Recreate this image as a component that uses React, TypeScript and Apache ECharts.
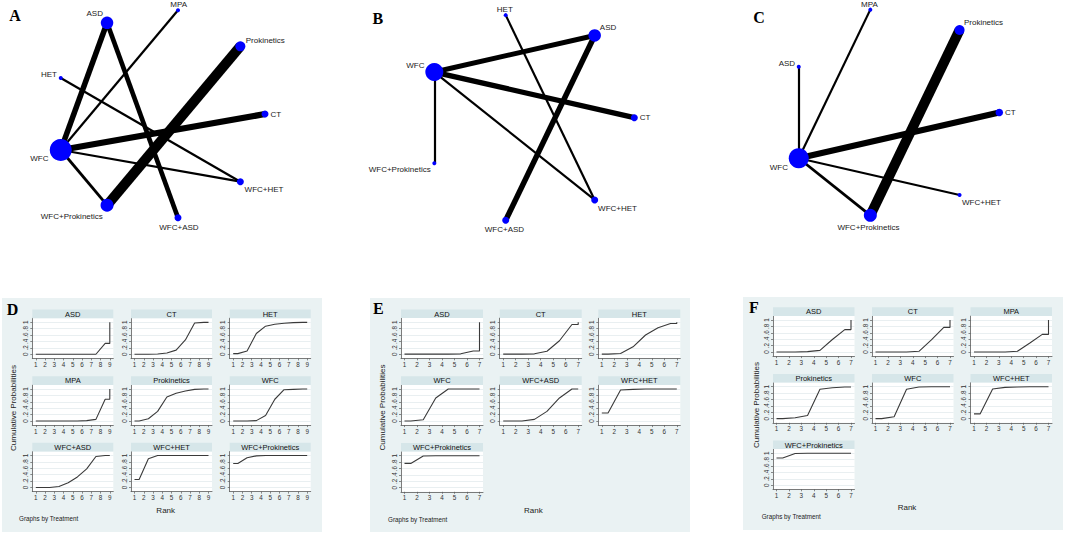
import React, { useEffect, useRef } from 'react';
import * as echarts from 'echarts';

// ---------- Network plots (nodes listed counter-clockwise, starting at 3 o'clock) ----------
const netA_nodes = ['CT', 'Prokinetics', 'MPA', 'ASD', 'HET', 'WFC', 'WFC+Prokinetics', 'WFC+ASD', 'WFC+HET'];
const netA_nodeWeight = [7, 10, 4, 12.5, 4, 22, 13, 7, 7];
const netA_edges: [string, string, number][] = [
  ['ASD', 'WFC', 5.5], ['ASD', 'WFC+ASD', 4.7], ['MPA', 'WFC', 2.2], ['Prokinetics', 'WFC+Prokinetics', 10],
  ['HET', 'WFC+HET', 2.2], ['CT', 'WFC', 6.3], ['WFC', 'WFC+HET', 2.2], ['WFC', 'WFC+Prokinetics', 2.8],
];

const netB_nodes = ['CT', 'ASD', 'HET', 'WFC', 'WFC+Prokinetics', 'WFC+ASD', 'WFC+HET'];
const netB_nodeWeight = [7, 12.5, 4, 18, 4, 7, 7];
const netB_edges: [string, string, number][] = [
  ['WFC', 'ASD', 5], ['WFC', 'CT', 5.3], ['ASD', 'WFC+ASD', 5.5], ['HET', 'WFC+HET', 2.2],
  ['WFC', 'WFC+Prokinetics', 2.2], ['WFC', 'WFC+HET', 2.2],
];

const netC_nodes = ['CT', 'Prokinetics', 'MPA', 'ASD', 'WFC', 'WFC+Prokinetics', 'WFC+HET'];
const netC_nodeWeight = [7.5, 10, 4, 4, 20, 13, 4];
const netC_edges: [string, string, number][] = [
  ['MPA', 'WFC', 2.2], ['ASD', 'WFC', 2.2], ['Prokinetics', 'WFC+Prokinetics', 10], ['CT', 'WFC', 6],
  ['WFC', 'WFC+HET', 2.2], ['WFC', 'WFC+Prokinetics', 2.8],
];

// ---------- Cumulative ranking probabilities (value at ranks 1..n-1) ----------
const rankCountD = 9;
const sucraD_names = ['ASD', 'CT', 'HET', 'MPA', 'Prokinetics', 'WFC', 'WFC+ASD', 'WFC+HET', 'WFC+Prokinetics'];
const sucraD_cum = [
  [0, 0, 0, 0, 0, 0, 0, 0.34],
  [0, 0, 0.01, 0.04, 0.13, 0.45, 0.98, 1.0],
  [0.02, 0.1, 0.65, 0.88, 0.94, 0.97, 0.99, 1.0],
  [0, 0, 0, 0, 0, 0.01, 0.05, 0.68],
  [0, 0.07, 0.3, 0.75, 0.87, 0.94, 0.99, 1.0],
  [0, 0, 0.01, 0.17, 0.68, 0.98, 0.99, 1.0],
  [0, 0, 0.03, 0.15, 0.33, 0.58, 0.97, 1.0],
  [0.25, 0.9, 1.0, 1, 1, 1, 1, 1],
  [0.75, 0.93, 0.99, 1, 1, 1, 1, 1],
];

const rankCountE = 7;
const sucraE_names = ['ASD', 'CT', 'HET', 'WFC', 'WFC+ASD', 'WFC+HET', 'WFC+Prokinetics'];
const sucraE_cum = [
  [0, 0, 0, 0, 0.01, 0.1],
  [0, 0, 0.01, 0.09, 0.42, 0.93],
  [0, 0.02, 0.23, 0.6, 0.83, 0.96],
  [0, 0.04, 0.72, 1, 1, 1],
  [0, 0, 0.05, 0.3, 0.72, 1.0],
  [0.25, 0.97, 0.99, 1, 1, 1],
  [0.76, 0.99, 1, 1, 1, 1],
];

const rankCountF = 7;
const sucraF_names = ['ASD', 'CT', 'MPA', 'Prokinetics', 'WFC', 'WFC+HET', 'WFC+Prokinetics'];
const sucraF_cum = [
  [0, 0, 0.01, 0.05, 0.39, 0.7],
  [0, 0, 0, 0.02, 0.38, 0.77],
  [0, 0, 0, 0.02, 0.28, 0.55],
  [0, 0.03, 0.1, 0.92, 0.97, 0.99],
  [0, 0.06, 0.92, 0.99, 1, 1],
  [0.15, 0.93, 0.98, 0.99, 1, 1],
  [0.85, 0.99, 1, 1, 1, 1],
];

const yTicks = [0, 0.2, 0.4, 0.6, 0.8, 1];

const FONT = '"Liberation Sans", Arial, sans-serif';
const SERIF = '"Liberation Serif", "Times New Roman", serif';

function buildNet(opt: any, nodes: string[], weights: number[], edges: [string, string, number][], cx: number, cy: number, R: number) {
  const gi = opt.grid.length;
  opt.grid.push({ left: cx - R, top: cy - R, width: 2 * R, height: 2 * R, show: false });
  opt.xAxis.push({ type: 'value', gridIndex: gi, min: -1, max: 1, show: false });
  opt.yAxis.push({ type: 'value', gridIndex: gi, min: -1, max: 1, show: false });
  const n = nodes.length;
  const ang = nodes.map((_, i) => (2 * Math.PI * i) / n);
  const pos = ang.map((a) => [Math.cos(a), Math.sin(a)]);
  const idx = (s: string) => nodes.indexOf(s);
  opt.series.push({
    type: 'lines',
    coordinateSystem: 'cartesian2d',
    xAxisIndex: gi,
    yAxisIndex: gi,
    clip: false,
    silent: true,
    z: 2,
    lineStyle: { color: '#000', opacity: 1, curveness: 0, cap: 'butt' },
    data: edges.map(([s, t, w]) => ({ coords: [pos[idx(s)], pos[idx(t)]], lineStyle: { width: w, color: '#000', opacity: 1 } })),
  });
  opt.series.push({
    type: 'scatter',
    xAxisIndex: gi,
    yAxisIndex: gi,
    clip: false,
    silent: true,
    z: 3,
    itemStyle: { color: '#0000ff', opacity: 1 },
    data: nodes.map((name, i) => {
      const a = ang[i];
      const c = Math.cos(a), s = Math.sin(a);
      const d = weights[i] / 2 + 2;
      const va = s > 0.3 ? 'bottom' : s < -0.3 ? 'top' : 'middle';
      const dy = -s * d + (va === 'bottom' ? 2.3 : 0);
      return {
        name,
        value: pos[i],
        symbolSize: weights[i],
        label: {
          show: true,
          formatter: '{b}',
          position: 'inside',
          offset: [c * d, dy],
          align: c > 0.3 ? 'left' : c < -0.3 ? 'right' : 'center',
          verticalAlign: va,
          color: '#1a1a1a',
          textBorderWidth: 0,
          textBorderColor: 'transparent',
          textShadowBlur: 0,
          fontSize: 8,
          fontFamily: FONT,
        },
      };
    }),
  });
}

type FacetLayout = {
  colLefts: number[];
  plotW: number;
  rowTops: number[];
  bg: [number, number, number, number];
  letter: string;
  letterPos: [number, number];
  rankPos: [number, number];
  gbtPos: [number, number];
  cumPos: [number, number];
};

function buildFacet(opt: any, names: string[], cum: number[][], nRank: number, L: FacetLayout) {
  const HEADER_H = 8.6;
  const PLOT_H = 40.2;
  opt.graphic.push({ type: 'rect', z: -10, shape: { x: L.bg[0], y: L.bg[1], width: L.bg[2], height: L.bg[3] }, style: { fill: '#eaf2f3' } });
  opt.graphic.push({
    type: 'text', z: 5, x: L.letterPos[0], y: L.letterPos[1],
    style: { text: L.letter, fontFamily: SERIF, fontWeight: 'bold', fontSize: 16, fill: '#000', align: 'center', verticalAlign: 'middle' },
  });
  opt.graphic.push({
    type: 'text', z: 5, x: L.rankPos[0], y: L.rankPos[1],
    style: { text: 'Rank', fontFamily: FONT, fontSize: 8, fill: '#222', align: 'center', verticalAlign: 'middle' },
  });
  opt.graphic.push({
    type: 'text', z: 5, x: L.gbtPos[0], y: L.gbtPos[1],
    style: { text: 'Graphs by Treatment', fontFamily: FONT, fontSize: 6.3, fill: '#222', align: 'left', verticalAlign: 'middle' },
  });
  opt.graphic.push({
    type: 'text', z: 5, x: L.cumPos[0], y: L.cumPos[1], rotation: Math.PI / 2,
    style: { text: 'Cumulative Probabilities', fontFamily: FONT, fontSize: 8, fill: '#222', align: 'center', verticalAlign: 'middle' },
  });
  const ranks = Array.from({ length: nRank }, (_, k) => k + 1);
  names.forEach((name, i) => {
    const col = i % 3;
    const row = Math.floor(i / 3);
    const left = L.colLefts[col];
    const top = L.rowTops[row];
    opt.graphic.push({ type: 'rect', z: 1, shape: { x: left, y: top, width: L.plotW, height: HEADER_H }, style: { fill: '#d6e6e9' } });
    opt.graphic.push({
      type: 'text', z: 2, x: left + L.plotW / 2, y: top + HEADER_H / 2 + 0.3,
      style: { text: name, fontFamily: FONT, fontSize: 7.5, fill: '#111', align: 'center', verticalAlign: 'middle' },
    });
    const gi = opt.grid.length;
    opt.grid.push({ left, top: top + HEADER_H, width: L.plotW, height: PLOT_H, show: true, backgroundColor: '#ffffff', borderWidth: 0 });
    const m = 3.5;
    const p = (L.plotW - 2 * m) / (nRank - 1);
    const axisLine = { show: true, onZero: false, lineStyle: { color: '#5a5a5a', width: 0.8 } };
    opt.xAxis.push({
      type: 'value', gridIndex: gi, min: 1 - m / p, max: nRank + m / p,
      axisLine,
      axisTick: { show: true, length: 2, customValues: ranks, lineStyle: { color: '#5a5a5a', width: 0.7 } },
      axisLabel: { show: true, customValues: ranks, fontSize: 6.3, color: '#333', margin: 3, fontFamily: FONT },
      splitLine: { show: false },
    });
    opt.yAxis.push({
      type: 'value', gridIndex: gi, min: -0.13, max: 1.13,
      axisLine,
      axisTick: { show: true, length: 2, customValues: yTicks, lineStyle: { color: '#5a5a5a', width: 0.7 } },
      axisLabel: {
        show: true, customValues: yTicks, rotate: 90, fontSize: 6.3, color: '#333', margin: 4, fontFamily: FONT,
        formatter: (v: number) => (v === 0 ? '0' : v === 1 ? '1' : '.' + Math.round(v * 10)),
      },
      splitLine: { show: true, lineStyle: { color: '#e3ebed', width: 0.8 } },
    });
    const c = cum[i];
    const pts: number[][] = [[1, c[0]]];
    c.forEach((v, k) => pts.push([k + 1.5, v]));
    pts.push([nRank, c[c.length - 1]]);
    pts.push([nRank, 1]);
    opt.series.push({
      type: 'line', xAxisIndex: gi, yAxisIndex: gi, data: pts, showSymbol: false, symbol: 'none', silent: true,
      lineStyle: { color: '#3a3a3a', width: 1.1 }, z: 3,
    });
  });
}

export default function App() {
  const ref = useRef<HTMLDivElement>(null);
  useEffect(() => {
    if (!ref.current) return;
    const chart = echarts.init(ref.current, undefined, { renderer: 'svg' });
    const opt: any = {
      animation: false,
      textStyle: { fontFamily: FONT },
      grid: [],
      xAxis: [],
      yAxis: [],
      series: [],
      graphic: [],
    };
    buildNet(opt, netA_nodes, netA_nodeWeight, netA_edges, 159.7, 114, 105.3);
    buildNet(opt, netB_nodes, netB_nodeWeight, netB_edges, 529.1, 117.7, 105.2);
    buildNet(opt, netC_nodes, netC_nodeWeight, netC_edges, 893.8, 112.5, 105.5);
    const letters: [string, number, number][] = [['A', 15, 15.5], ['B', 377.8, 18.5], ['C', 759, 17.5]];
    letters.forEach(([t, x, y]) =>
      opt.graphic.push({ type: 'text', z: 5, x, y, style: { text: t, fontFamily: SERIF, fontWeight: 'bold', fontSize: 16, fill: '#000', align: 'center', verticalAlign: 'middle' } })
    );
    buildFacet(opt, sucraD_names, sucraD_cum, rankCountD, {
      colLefts: [32.3, 131, 229.7], plotW: 81, rowTops: [309.6, 376.3, 442.8], bg: [2, 298, 320, 234],
      letter: 'D', letterPos: [12.5, 309.2], rankPos: [165.7, 510], gbtPos: [19, 518.3], cumPos: [13.7, 408],
    });
    buildFacet(opt, sucraE_names, sucraE_cum, rankCountE, {
      colLefts: [401, 499.7, 598.3], plotW: 82, rowTops: [309.5, 376.3, 443], bg: [370, 298, 320, 234],
      letter: 'E', letterPos: [378.3, 308.8], rankPos: [533.3, 510], gbtPos: [388, 519], cumPos: [382, 407.5],
    });
    buildFacet(opt, sucraF_names, sucraF_cum, rankCountF, {
      colLefts: [773, 872, 970.5], plotW: 81.5, rowTops: [307.3, 374, 440.5], bg: [743, 297, 320, 233],
      letter: 'F', letterPos: [753.8, 307], rankPos: [907, 507.5], gbtPos: [761.7, 516.7], cumPos: [756.7, 405],
    });
    chart.setOption(opt);
    return () => chart.dispose();
  }, []);
  return <div ref={ref} style={{ position: 'fixed', left: 0, top: 0, width: 1065, height: 533, background: '#fff' }} />;
}
